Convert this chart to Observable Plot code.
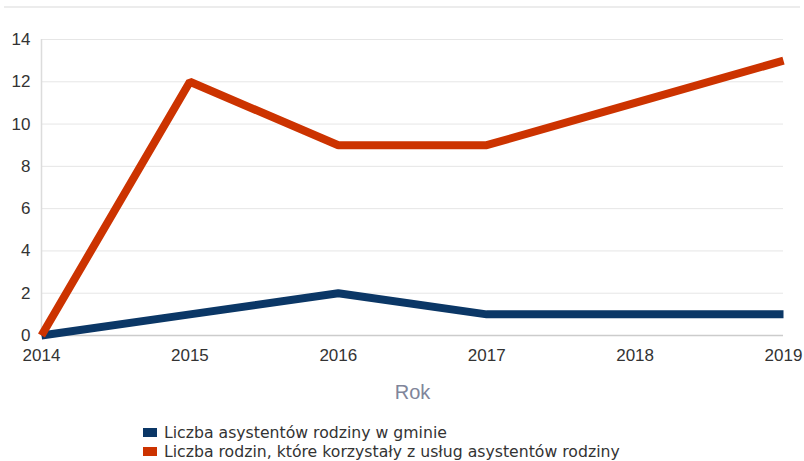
<!DOCTYPE html>
<html>
<head>
<meta charset="utf-8">
<script src="https://cdn.jsdelivr.net/npm/d3@7"></script>
<script src="https://cdn.jsdelivr.net/npm/@observablehq/plot@0.6"></script>
<style>
  html, body { margin: 0; padding: 0; background: #fff; }
  body { width: 804px; height: 461px; position: relative; overflow: hidden; font-family: "Liberation Sans", sans-serif; }
  #topline { position: absolute; left: 4px; top: 6px; width: 796px; height: 2px; background: #ececec; }
  #chart { position: absolute; left: 0; top: 0; }
  #legend { position: absolute; left: 143px; top: 423px; font-family: "DejaVu Sans", sans-serif; font-size: 15.7px; color: #333; line-height: 19px; }
  .item { display: flex; align-items: center; white-space: nowrap; height: 19px; }
  .sw { width: 14px; height: 9px; margin-right: 7px; display: inline-block; }
</style>
</head>
<body>
<div id="topline"></div>
<div id="chart"></div>
<div id="legend"></div>
<script>
const years = [2014, 2015, 2016, 2017, 2018, 2019];
const assistants = [0, 1, 2, 1, 1, 1];
const families = [0, 12, 9, 9, 11, 13];
const seriesNames = ["Liczba asystentów rodziny w gminie", "Liczba rodzin, które korzystały z usług asystentów rodziny"];
const seriesColors = ["#0b3766", "#cc3300"];
const yTicks = [0, 2, 4, 6, 8, 10, 12, 14];

const data = [];
years.forEach((y, i) => data.push({year: y, value: assistants[i], series: seriesNames[0]}));
years.forEach((y, i) => data.push({year: y, value: families[i], series: seriesNames[1]}));

const plot = Plot.plot({
  width: 804,
  height: 405,
  marginLeft: 41,
  marginRight: 21,
  marginTop: 39,
  marginBottom: 70,
  style: {fontFamily: "Liberation Sans, sans-serif", fontSize: "17px", color: "#333", background: "transparent"},
  x: {domain: [2014, 2019]},
  y: {domain: [0, 14]},
  color: {domain: seriesNames, range: seriesColors},
  marks: [
    Plot.gridY(yTicks, {stroke: "#e6e6e6", strokeOpacity: 1, strokeWidth: 1}),
    Plot.ruleX([2014], {stroke: "#dcdcdc", strokeWidth: 1.5}),
    Plot.ruleY([0], {stroke: "#cccccc", strokeWidth: 1.5}),
    Plot.axisY({ticks: yTicks, tickSize: 0, tickPadding: 11, label: null, fill: "#333"}),
    Plot.axisX({ticks: years, tickFormat: "d", tickSize: 0, tickPadding: 13, label: "Rok", labelAnchor: "center", labelArrow: "none", labelOffset: 63, fill: "#333"}),
    Plot.line(data, {x: "year", y: "value", stroke: "series", strokeWidth: 8, strokeLinejoin: "miter", strokeLinecap: "butt"})
  ]
});
plot.querySelectorAll("text").forEach(t => { if (t.textContent === "Rok") { t.setAttribute("fill", "#80859a"); t.style.fontSize = "20px"; } });
document.getElementById("chart").appendChild(plot);

const legend = document.getElementById("legend");
seriesNames.forEach((n, i) => {
  const d = document.createElement("div");
  d.className = "item";
  d.innerHTML = `<span class="sw" style="background:${seriesColors[i]}"></span><span>${n}</span>`;
  legend.appendChild(d);
});
</script>
</body>
</html>
